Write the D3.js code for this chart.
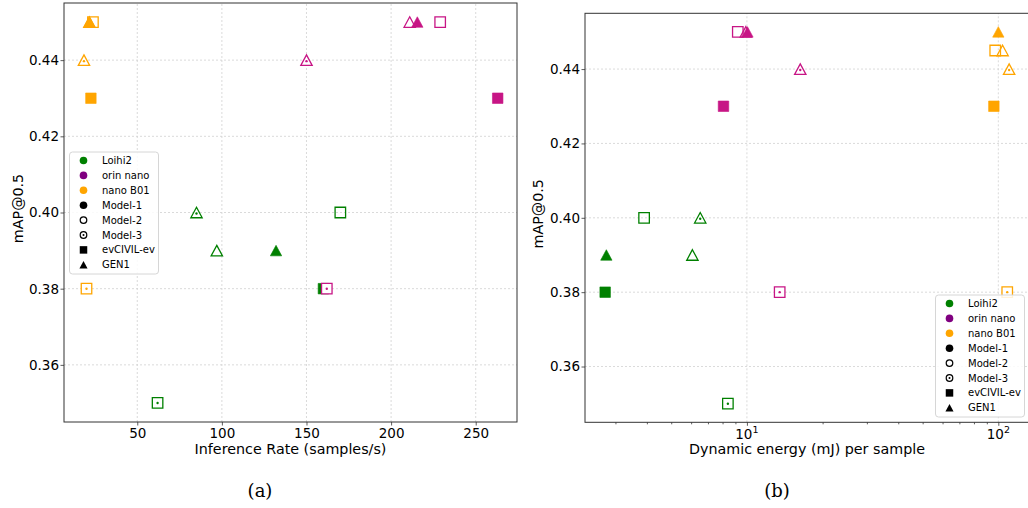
<!DOCTYPE html>
<html>
<head>
<meta charset="utf-8">
<script src="https://cdn.jsdelivr.net/npm/d3@7"></script>
<style>
  body { margin: 0; background: #fff; }
  text { font-family: "DejaVu Sans", sans-serif; fill: #000; }
  .tick text { font-size: 13.5px; }
  .axis-title { font-size: 14.3px; }
  .legend text { font-size: 10px; }
  .caption { font-family: "DejaVu Serif", serif; font-size: 18px; }
</style>
</head>
<body>
<svg width="1028" height="508"></svg>
<script>
const svg = d3.select("svg");

// categories
const platforms = ["Loihi2", "orin nano", "nano B01"];
const models = ["Model-1", "Model-2", "Model-3"];
const datasets = ["evCIVIL-ev", "GEN1"];

// each series: evCIVIL-ev Model-1, Model-2, Model-3, then GEN1 Model-1, Model-2, Model-3
const loihi2Rate = [160, 170, 62, 132, 97, 85];
const loihi2Energy = [2.73, 3.9, 8.4, 2.76, 6.07, 6.52];
const loihi2MapA = [0.38, 0.40, 0.35, 0.39, 0.39, 0.40];
const loihi2MapB = [0.38, 0.40, 0.35, 0.39, 0.39, 0.40];

const orinRate = [263, 229, 162, 215.5, 211, 150];
const orinEnergy = [8.07, 9.2, 13.5, 10.05, 9.9, 16.3];
const orinMapA = [0.43, 0.45, 0.38, 0.45, 0.45, 0.44];
const orinMapB = [0.43, 0.45, 0.38, 0.45, 0.45, 0.44];

const nanoRate = [22.6, 23.8, 20, 21.7, 21.7, 18.5];
const nanoEnergy = [96, 97.2, 108.5, 100, 104, 110.4];
const nanoMapA = [0.43, 0.45, 0.38, 0.45, 0.45, 0.44];
const nanoMapB = [0.43, 0.445, 0.38, 0.45, 0.445, 0.44];

// tick labels
const mapTicks = [0.36, 0.38, 0.40, 0.42, 0.44];
const rateTicks = [50, 100, 150, 200, 250];
const energyTicks = [10, 100];
const energyMinor = [3, 4, 5, 6, 7, 8, 9, 20, 30, 40, 50, 60, 70, 80, 90];

const markerColor = { "Loihi2": "#008000", "orin nano": "#c71585", "nano B01": "#ffa500" };
const legendColor = { "Loihi2": "#008000", "orin nano": "#800080", "nano B01": "#ffa500" };

const series = [
  [loihi2Rate, loihi2Energy, loihi2MapA, loihi2MapB],
  [orinRate, orinEnergy, orinMapA, orinMapB],
  [nanoRate, nanoEnergy, nanoMapA, nanoMapB]
];

// flatten into rows; draw Model-2, Model-3, then Model-1 so filled marks sit on top
const rows = [];
platforms.forEach((p, pi) => {
  datasets.forEach((ds, di) => {
    [1, 2, 0].forEach(mi => {
      const k = di * 3 + mi;
      rows.push({
        platform: p, dataset: ds, model: models[mi],
        rate: series[pi][0][k], energy: series[pi][1][k],
        mapA: series[pi][2][k], mapB: series[pi][3][k]
      });
    });
  });
});

const shapePath = (dataset, s) => {
  if (dataset === "GEN1") {
    const w = s * 1.08, h = s;
    return `M0,${-h / 2}L${w / 2},${h / 2}L${-w / 2},${h / 2}Z`;
  }
  return `M${-s / 2},${-s / 2}H${s / 2}V${s / 2}H${-s / 2}Z`;
};

const drawMarker = (sel, d, color, s) => {
  const filled = d.model === "Model-1";
  sel.append("path")
    .attr("d", shapePath(d.dataset, s))
    .attr("fill", filled ? color : (d.model === "Model-3" ? "#fff" : "none"))
    .attr("stroke", color)
    .attr("stroke-width", filled ? 0.6 : 1.3)
    .attr("stroke-linejoin", "miter");
  if (d.model === "Model-3") {
    sel.append("circle").attr("r", 1.2).attr("cy", d.dataset === "GEN1" ? 1 : 0).attr("fill", color);
  }
};

const legendItems = [
  ...platforms.map(p => ({ label: p, kind: "color", color: legendColor[p] })),
  ...models.map(m => ({ label: m, kind: "model", model: m })),
  ...datasets.map(ds => ({ label: ds, kind: "dataset", dataset: ds }))
];

const drawLegend = (g, left, top) => {
  const lg = g.append("g").attr("class", "legend").attr("transform", `translate(${left},${top})`);
  lg.append("rect")
    .attr("width", 89).attr("height", 122)
    .attr("rx", 3)
    .attr("fill", "#fff").attr("fill-opacity", 0.85)
    .attr("stroke", "#d6d6d6");
  legendItems.forEach((it, i) => {
    const row = lg.append("g").attr("transform", `translate(14,${8.5 + i * 14.9})`);
    if (it.kind === "color") {
      row.append("circle").attr("r", 3.8).attr("fill", it.color);
    } else if (it.kind === "model") {
      if (it.model === "Model-1") row.append("circle").attr("r", 3.8).attr("fill", "#000");
      else {
        row.append("circle").attr("r", 3.3).attr("fill", "none").attr("stroke", "#000").attr("stroke-width", 1.2);
        if (it.model === "Model-3") row.append("circle").attr("r", 1).attr("fill", "#000");
      }
    } else {
      row.append("path").attr("d", shapePath(it.dataset, 7.5)).attr("fill", "#000");
    }
    row.append("text").attr("x", 18.5).attr("dy", "0.35em").text(it.label);
  });
};

const drawPanel = (opt) => {
  const { x, y, xKey, yKey } = opt;
  const g = svg.append("g");
  const [x0, x1] = x.range();
  const [y0, y1] = y.range();

  g.append("defs").append("clipPath").attr("id", opt.id)
    .append("rect").attr("x", x0).attr("y", y1).attr("width", x1 - x0).attr("height", y0 - y1);

  // grid
  const grid = g.append("g");
  grid.selectAll(".gx").data(opt.xTicks).enter().append("line")
    .attr("x1", d => x(d)).attr("x2", d => x(d)).attr("y1", y0).attr("y2", y1);
  grid.selectAll(".gy").data(mapTicks).enter().append("line")
    .attr("y1", d => y(d)).attr("y2", d => y(d)).attr("x1", x0).attr("x2", x1);
  grid.selectAll("line")
    .attr("stroke", "#d0d0d0").attr("stroke-width", 0.8).attr("stroke-dasharray", "2,2");

  // axes
  const xAxis = g.append("g").attr("transform", `translate(0,${y0})`)
    .call(opt.xAxis.tickSize(3.5).tickPadding(3));
  xAxis.select(".domain").remove();
  if (opt.minor) {
    g.append("g").attr("transform", `translate(0,${y0})`)
      .call(d3.axisBottom(x).tickValues(opt.minor).tickSize(2).tickFormat(""))
      .select(".domain").remove();
  }
  const yAxis = g.append("g").attr("transform", `translate(${x0},0)`)
    .call(d3.axisLeft(y).tickValues(mapTicks).tickFormat(d3.format(".2f")).tickSize(3.5).tickPadding(1.5));
  yAxis.select(".domain").remove();
  g.selectAll(".tick line").attr("stroke", "#333").attr("stroke-width", 0.8);

  // markers
  const marks = g.append("g").attr("clip-path", `url(#${opt.id})`);
  rows.forEach(d => {
    const m = marks.append("g").attr("transform", `translate(${x(d[xKey])},${y(d[yKey])})`);
    drawMarker(m, d, markerColor[d.platform], 10.5);
  });

  // frame
  g.append("rect")
    .attr("x", x0).attr("y", y1).attr("width", x1 - x0).attr("height", y0 - y1)
    .attr("fill", "none").attr("stroke", "#333").attr("stroke-width", 1);

  // titles
  g.append("text").attr("class", "axis-title")
    .attr("x", (x0 + x1) / 2).attr("y", 454).attr("text-anchor", "middle")
    .text(opt.xTitle);
  g.append("text").attr("class", "axis-title")
    .attr("transform", `translate(${opt.yTitleX},${(y0 + y1) / 2 - 4}) rotate(-90)`)
    .attr("text-anchor", "middle")
    .text("mAP@0.5");
  g.append("text").attr("class", "caption")
    .attr("x", opt.captionX).attr("y", 497).attr("text-anchor", "middle")
    .text(opt.caption);

  drawLegend(g, opt.legend[0], opt.legend[1]);
};

// left panel: inference rate
const xRate = d3.scaleLinear().domain([6.7, 274.4]).range([64, 517]);
const yRate = d3.scaleLinear().domain([0.345, 0.455]).range([422, 3]);
drawPanel({
  id: "clipA", x: xRate, y: yRate, xKey: "rate", yKey: "mapA",
  xTicks: rateTicks,
  xAxis: d3.axisBottom(xRate).tickValues(rateTicks),
  xTitle: "Inference Rate (samples/s)",
  yTitleX: 23, captionX: 260, caption: "(a)",
  legend: [69.5, 152]
});

// right panel: dynamic energy (log)
const xEnergy = d3.scaleLog().domain([Math.pow(10, 0.356), Math.pow(10, 2.122)]).range([585, 1029]);
const yEnergy = d3.scaleLinear().domain([0.345, 0.455]).range([422.3, 13.3]);
drawPanel({
  id: "clipB", x: xEnergy, y: yEnergy, xKey: "energy", yKey: "mapB",
  xTicks: energyTicks,
  xAxis: d3.axisBottom(xEnergy).tickValues(energyTicks).tickFormat(""),
  minor: energyMinor,
  xTitle: "Dynamic energy (mJ) per sample",
  yTitleX: 543, captionX: 777, caption: "(b)",
  legend: [935.5, 295]
});

// log tick labels as 10^n
svg.append("g").selectAll("text").data(energyTicks).enter().append("text")
  .attr("x", d => xEnergy(d)).attr("y", 438.5)
  .attr("text-anchor", "middle")
  .style("font-size", "13.5px")
  .each(function (d) {
    const t = d3.select(this);
    t.append("tspan").text("10");
    t.append("tspan").attr("dy", -6).style("font-size", "9.5px").text(Math.round(Math.log10(d)));
  });
</script>
</body>
</html>
